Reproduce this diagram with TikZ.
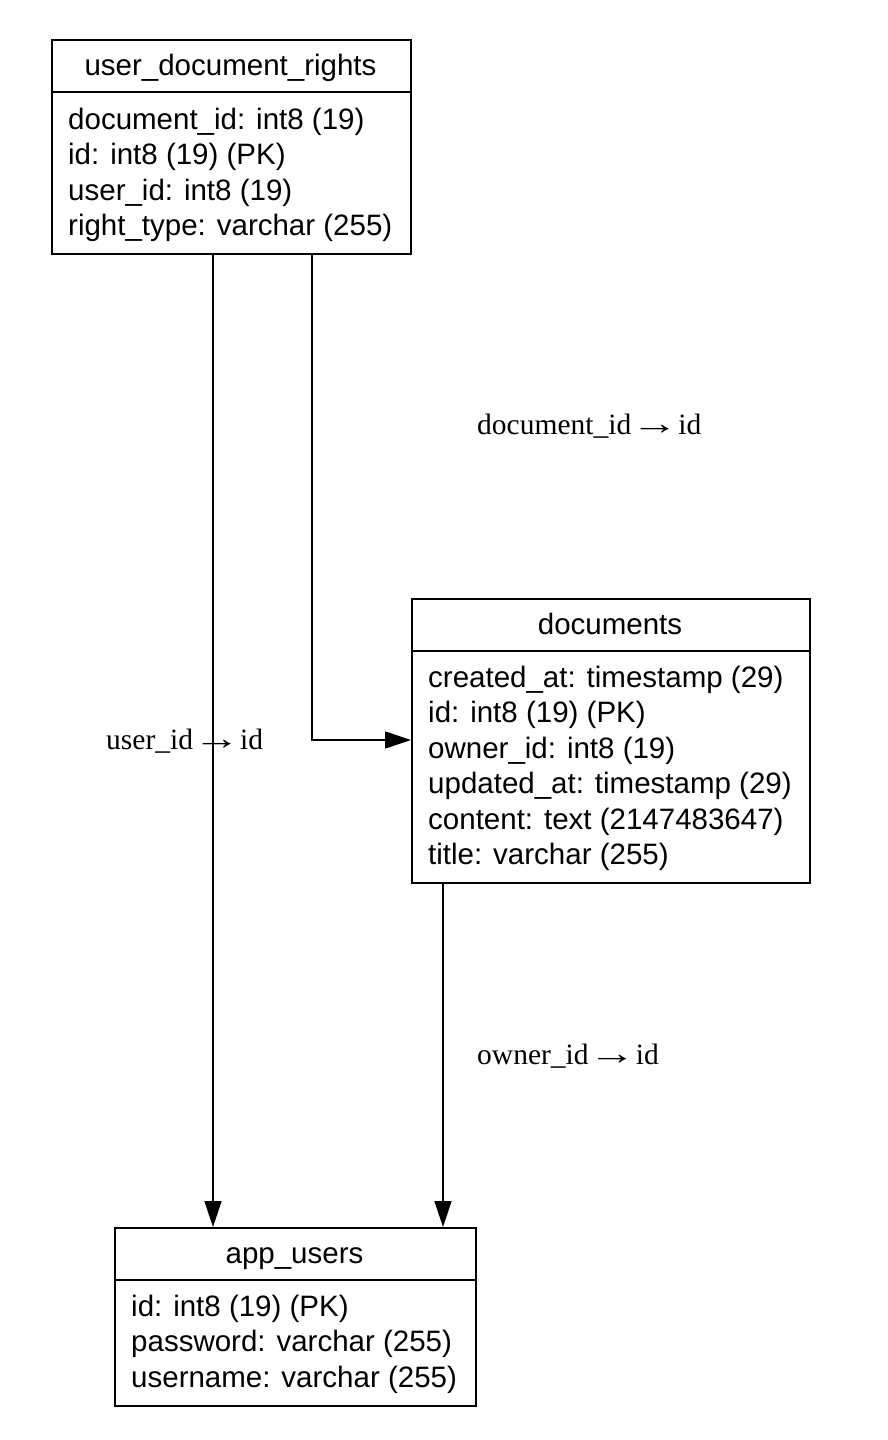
\documentclass[tikz,border=0pt]{standalone}
\usepackage{fontspec}
\usepackage{graphicx}
\setmainfont{Liberation Serif}
\newfontfamily\tablefont{Liberation Sans}
\usetikzlibrary{arrows.meta}
\newcommand{\relarrow}{\ \makebox[1.1em][c]{\scalebox{1.6}[1.1]{→}}\ }
\begin{document}
\begin{tikzpicture}[x=1pt,y=-1pt,
  htext/.style={font=\tablefont\fontsize{29.5}{35}\selectfont,anchor=base,inner sep=0pt},
  rtext/.style={font=\tablefont\fontsize{29.5}{35}\selectfont,anchor=base west,inner sep=0pt},
  ltext/.style={font=\fontsize{29.5}{35}\selectfont,anchor=base west,inner sep=0pt},
  tablebox/.style={draw,line width=1.6pt,inner sep=0pt,anchor=north west},
  conn/.style={line width=1.6pt,-{Triangle[length=26pt,width=17pt]}}]
\useasboundingbox (0,0) rectangle (888,1440);
% user_document_rights
\node[tablebox,minimum width=359pt,minimum height=214pt] (udr) at (51,39) {};
\draw[line width=1.6pt] (51,92) -- (410,92);
\node[htext] (udrh) at (230.5,75) {user\_document\_rights};
\node[rtext] (udr1) at (68,129) {document\_id: int8 (19)};
\node[rtext] (udr2) at (68,164.5) {id: int8 (19) (PK)};
\node[rtext] (udr3) at (68,200) {user\_id: int8 (19)};
\node[rtext] (udr4) at (68,235) {right\_type: varchar (255)};
% documents
\node[tablebox,minimum width=398pt,minimum height=284pt] (docs) at (411,598) {};
\draw[line width=1.6pt] (411,651) -- (809,651);
\node[htext] (docsh) at (610,634) {documents};
\node[rtext] (d1) at (428,687) {created\_at: timestamp (29)};
\node[rtext] (d2) at (428,722.5) {id: int8 (19) (PK)};
\node[rtext] (d3) at (428,758) {owner\_id: int8 (19)};
\node[rtext] (d4) at (428,793.5) {updated\_at: timestamp (29)};
\node[rtext] (d5) at (428,829) {content: text (2147483647)};
\node[rtext] (d6) at (428,864.5) {title: varchar (255)};
% app_users
\node[tablebox,minimum width=361pt,minimum height=178pt] (au) at (114,1227) {};
\draw[line width=1.6pt] (114,1280) -- (475,1280);
\node[htext] (auh) at (294.5,1263) {app\_users};
\node[rtext] (a1) at (131,1316) {id: int8 (19) (PK)};
\node[rtext] (a2) at (131,1351.5) {password: varchar (255)};
\node[rtext] (a3) at (131,1387) {username: varchar (255)};
% connectors
\coordinate (c1s) at (213,253);
\coordinate (c1e) at (213,1227);
\draw[conn] (c1s) -- (c1e);
\coordinate (c2s) at (312,253);
\coordinate (c2m) at (312,740);
\coordinate (c2e) at (411,740);
\draw[conn] (c2s) -- (c2m) -- (c2e);
\coordinate (c3s) at (443,882);
\coordinate (c3e) at (443,1227);
\draw[conn] (c3s) -- (c3e);
% labels
\node[ltext] (l1) at (477,434) {document\_id\relarrow id};
\node[ltext] (l2) at (106,749) {user\_id\relarrow id};
\node[ltext] (l3) at (477,1064) {owner\_id\relarrow id};
\end{tikzpicture}
\end{document}
